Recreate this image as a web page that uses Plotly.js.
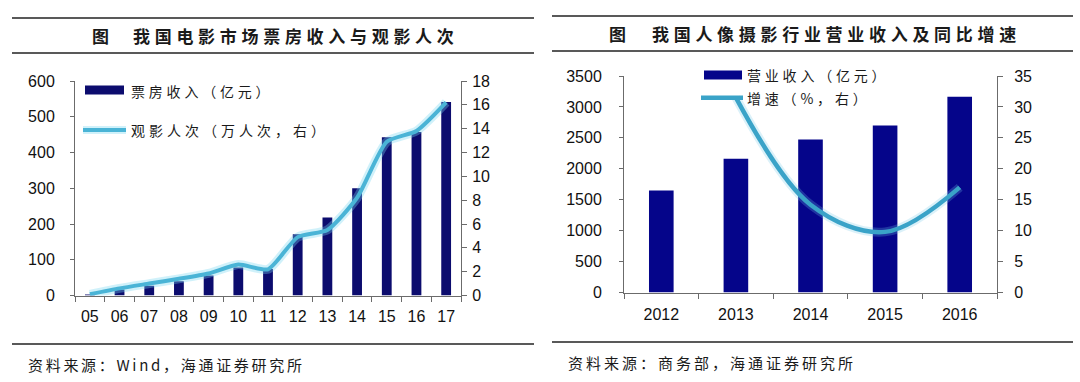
<!DOCTYPE html>
<html>
<head>
<meta charset="utf-8">
<script src="https://cdn.plot.ly/plotly-3.0.1.min.js"></script>
<style>
html,body{margin:0;padding:0;background:#fff;}
#chart{width:1080px;height:382px;}
</style>
</head>
<body>
<div id="chart"></div>
<script>
// ---- data (left chart) ----
const filmYears = ['05','06','07','08','09','10','11','12','13','14','15','16','17'];
const boxOffice = [3, 17, 27, 40, 56, 78, 74, 171, 218, 300, 443, 457, 541];
const admissions = [0.1, 0.6, 1.0, 1.4, 1.85, 2.6, 2.2, 4.9, 5.5, 8.2, 12.9, 13.8, 16.2];
const boxOfficeName = '票房收入（亿元）';
const admissionsName = '观影人次（万人次，右）';
const leftTitle = '我国电影市场票房收入与观影人次';
const leftSource = '资料来源：Wind，海通证券研究所';

// ---- data (right chart) ----
const photoYears = ['2012','2013','2014','2015','2016'];
const photoRevenue = [1650, 2163, 2472, 2699, 3164];
const photoGrowth = [null, 31.5, 14.2, 9.8, 17.0];
const revenueName = '营业收入（亿元）';
const growthName = '增速（%，右）';
const rightTitle = '我国人像摄影行业营业收入及同比增速';
const rightSource = '资料来源：商务部，海通证券研究所';

// ---- helpers ----
const W = 1080, H = 382;
const px = x => x / W;
const py = y => 1 - y / H;

const NUM_FONT = 'Liberation Sans, Arial, sans-serif';
const CJK_FONT = 'Noto Sans CJK SC, sans-serif';
const AXIS_COLOR = '#6b6b6b';

const barColorL = '#0c0c6e';
const barColorR = '#05058a';
const lineColorL = '#4ab4d6';
const lineColorR = '#3aa3c8';

const traces = [
  {type:'bar', x:filmYears, y:boxOffice, xaxis:'x', yaxis:'y', marker:{color:barColorL}, name:boxOfficeName, showlegend:false},
  {type:'scatter', mode:'lines', x:filmYears, y:admissions, xaxis:'x', yaxis:'y2',
   line:{color:'rgba(120,215,240,0.35)', width:9, shape:'spline', smoothing:0.6}, hoverinfo:'skip', showlegend:false},
  {type:'scatter', mode:'lines', x:filmYears, y:admissions, xaxis:'x', yaxis:'y2',
   line:{color:lineColorL, width:4, shape:'spline', smoothing:0.6}, name:admissionsName, showlegend:false},

  {type:'bar', x:photoYears, y:photoRevenue, xaxis:'x2', yaxis:'y3', marker:{color:barColorR}, name:revenueName, showlegend:false},
  {type:'scatter', mode:'lines', x:photoYears, y:photoGrowth, xaxis:'x2', yaxis:'y4',
   line:{color:'rgba(110,200,230,0.25)', width:9, shape:'spline', smoothing:1}, hoverinfo:'skip', showlegend:false},
  {type:'scatter', mode:'lines', x:photoYears, y:photoGrowth, xaxis:'x2', yaxis:'y4',
   line:{color:lineColorR, width:4.5, shape:'spline', smoothing:1}, name:growthName, showlegend:false}
];

const baseAxis = {
  showline:true, linecolor:AXIS_COLOR, linewidth:1, ticks:'outside', tickcolor:AXIS_COLOR,
  showgrid:false, zeroline:false, tickfont:{family:NUM_FONT, size:16, color:'#111'}, fixedrange:true
};

const layout = {
  width:W, height:H, margin:{l:0,r:0,t:0,b:0},
  paper_bgcolor:'#fff', plot_bgcolor:'rgba(0,0,0,0)',
  showlegend:false, bargap:0.67,
  xaxis:Object.assign({}, baseAxis, {domain:[px(75), px(461)], anchor:'y', type:'category', range:[-0.5,12.5],
    tickson:'boundaries', ticklen:5, ticklabelstandoff:6}),
  yaxis:Object.assign({}, baseAxis, {domain:[py(295.5), py(81)], anchor:'x', range:[0,600], dtick:100,
    ticklen:4, ticklabelstandoff:12}),
  yaxis2:Object.assign({}, baseAxis, {overlaying:'y', side:'right', anchor:'x', range:[0,18], dtick:2,
    ticklen:5, ticklabelstandoff:2}),
  xaxis2:Object.assign({}, baseAxis, {domain:[px(624), px(997)], anchor:'y3', type:'category', range:[-0.5,4.5],
    tickson:'boundaries', ticklen:5, ticklabelstandoff:7}),
  yaxis3:Object.assign({}, baseAxis, {domain:[py(292.5), py(76)], anchor:'x2', range:[0,3500], dtick:500,
    ticklen:4, ticklabelstandoff:14}),
  yaxis4:Object.assign({}, baseAxis, {overlaying:'y3', side:'right', anchor:'x2', range:[0,35], dtick:5,
    ticklen:5, ticklabelstandoff:8}),
  shapes:[
    // title / footer rules
    {type:'line', xref:'paper', yref:'paper', x0:px(12), x1:px(534), y0:py(18), y1:py(18), line:{color:'#222', width:1.3}},
    {type:'line', xref:'paper', yref:'paper', x0:px(12), x1:px(534), y0:py(53), y1:py(53), line:{color:'#222', width:1.3}},
    {type:'line', xref:'paper', yref:'paper', x0:px(12), x1:px(534), y0:py(344), y1:py(344), line:{color:'#222', width:1.3}},
    {type:'line', xref:'paper', yref:'paper', x0:px(552), x1:px(1073), y0:py(16), y1:py(16), line:{color:'#222', width:1.3}},
    {type:'line', xref:'paper', yref:'paper', x0:px(552), x1:px(1073), y0:py(51), y1:py(51), line:{color:'#222', width:1.3}},
    {type:'line', xref:'paper', yref:'paper', x0:px(552), x1:px(1073), y0:py(342), y1:py(342), line:{color:'#222', width:1.3}},
    // legend swatches (left)
    {type:'rect', xref:'paper', yref:'paper', x0:px(85), x1:px(124), y0:py(94.5), y1:py(85.5), fillcolor:barColorL, line:{width:0}},
    {type:'line', xref:'paper', yref:'paper', x0:px(83), x1:px(126), y0:py(130), y1:py(130), line:{color:'rgba(120,215,240,0.35)', width:8}},
    {type:'line', xref:'paper', yref:'paper', x0:px(83), x1:px(126), y0:py(130), y1:py(130), line:{color:lineColorL, width:4}},
    // legend swatches (right)
    {type:'rect', xref:'paper', yref:'paper', x0:px(704), x1:px(742), y0:py(79.5), y1:py(70.5), fillcolor:barColorR, line:{width:0}},
    {type:'line', xref:'paper', yref:'paper', x0:px(701), x1:px(743), y0:py(97.7), y1:py(97.7), line:{color:lineColorR, width:4.5}}
  ],
  annotations:[]
};

// text annotations: [text, x, y, size, spacing, weight]
const texts = [
  ['图', 90, 35.5, 17, 0, 'bold'],
  [leftTitle, 131, 35.5, 17, 4.7, 'bold'],
  ['图', 607, 33.5, 17, 0, 'bold'],
  [rightTitle, 650, 33.5, 17, 4.7, 'bold'],
  [leftSource, 26, 364, 15, 2.7, 'normal'],
  [rightSource, 566, 362, 15, 3.0, 'normal'],
  [boxOfficeName, 129, 90.5, 14, 3.8, 'normal'],
  [admissionsName, 129, 130, 14, 4.0, 'normal'],
  [revenueName, 745, 75, 14, 3.8, 'normal'],
  [growthName, 745, 97.7, 14, 3.8, 'normal']
];
texts.forEach(t => {
  layout.annotations.push({
    xref:'paper', yref:'paper', x:px(t[1]), y:py(t[2]), xanchor:'left', yanchor:'middle', align:'left',
    text:t[0], showarrow:false, font:{family:CJK_FONT, size:t[3], color:'#1a1a1a', weight:t[5]}
  });
});

Plotly.newPlot('chart', traces, layout, {staticPlot:true, displayModeBar:false}).then(() => {
  texts.forEach((t, i) => {
    const el = document.querySelector('.annotation[data-index="' + i + '"] text');
    if (el && t[4]) el.style.letterSpacing = t[4] + 'px';
  });
});
</script>
</body>
</html>
